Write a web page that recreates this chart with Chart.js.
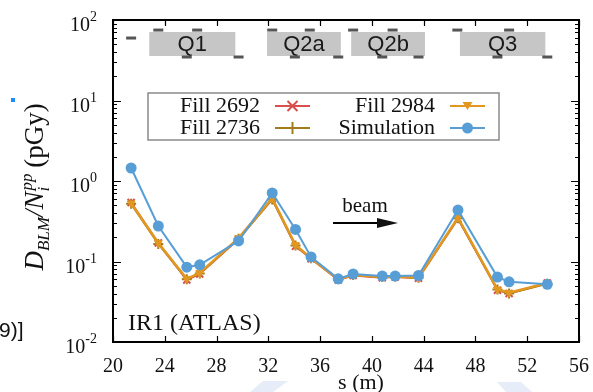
<!DOCTYPE html>
<html>
<head>
<meta charset="utf-8">
<script src="https://cdn.jsdelivr.net/npm/chart.js@4.4.0/dist/chart.umd.min.js"></script>
<style>
  html, body { margin: 0; padding: 0; background: #fff; }
  #wrap { position: relative; width: 593px; height: 392px; }
</style>
</head>
<body>
<div id="wrap"><canvas id="blmChart" width="593" height="392"></canvas></div>
<script>
// BLM positions along s (m)
const sPos = [21.4, 23.5, 25.7, 26.7, 29.7, 32.3, 34.1, 35.3, 37.4, 38.55, 40.8, 41.8, 43.6, 46.65, 49.7, 50.6, 53.55];

// dose per inelastic collision (pGy)
const fill2692 = [0.54, 0.17, 0.059, 0.070, 0.19, 0.60, 0.155, 0.108, 0.059, 0.067, 0.063, 0.064, 0.062, 0.34, 0.044, 0.040, 0.054];
const fill2736 = [0.52, 0.165, 0.060, 0.071, 0.192, 0.59, 0.158, 0.110, 0.060, 0.068, 0.064, 0.065, 0.063, 0.345, 0.045, 0.040, 0.053];
const fill2984 = [0.53, 0.17, 0.061, 0.072, 0.195, 0.61, 0.160, 0.110, 0.060, 0.068, 0.064, 0.065, 0.063, 0.35, 0.045, 0.041, 0.054];
const simulation = [1.45, 0.276, 0.085, 0.091, 0.18, 0.71, 0.25, 0.114, 0.061, 0.070, 0.066, 0.066, 0.067, 0.436, 0.064, 0.056, 0.052];

// magnet layout drawn at the top
const quadNames = ['Q1', 'Q2a', 'Q2b', 'Q3'];
const quadStart = [22.8, 31.9, 38.4, 46.8];
const quadEnd = [29.45, 37.6, 44.1, 53.4];
const quadLow = 35.7, quadHigh = 71;

// BLM markers above / below the magnets
const blmTopS = [23.5, 26.5, 32.3, 35.2, 38.55, 41.6, 46.6, 50.6];
const blmBottomS = [25.7, 29.7, 34.05, 37.4, 40.8, 43.6, 49.7, 53.55];
const blmMidS = [21.4];
const blmTopY = 75, blmBottomY = 34.7, blmMidY = 59.7;

const xTicks = [20, 24, 28, 32, 36, 40, 44, 48, 52, 56];
const yDecades = [-2, -1, 0, 1, 2];

const RED = 'rgb(218,78,78)';
const GOLD = 'rgb(163,122,28)';
const ORANGE = 'rgb(226,152,32)';
const BLUE = 'rgb(88,158,214)';
const SERIF = '"Liberation Serif", "DejaVu Serif", serif';
const SANS = '"Liberation Sans", Arial, sans-serif';

const pts = (ys) => sPos.map((s, i) => ({ x: s, y: ys[i] }));
const flat = (xs, y) => xs.map(s => ({ x: s, y: y }));

function legendMarker(ctx, kind, color, x, y) {
    ctx.save();
    ctx.strokeStyle = color; ctx.fillStyle = color; ctx.lineWidth = 2;
    ctx.beginPath();
    if (kind === 'x') {
        ctx.moveTo(x - 5, y - 5); ctx.lineTo(x + 5, y + 5);
        ctx.moveTo(x + 5, y - 5); ctx.lineTo(x - 5, y + 5); ctx.stroke();
    } else if (kind === '+') {
        ctx.moveTo(x, y - 6); ctx.lineTo(x, y + 6); ctx.stroke();
    } else if (kind === 'tri') {
        ctx.moveTo(x - 5, y - 4); ctx.lineTo(x + 5, y - 4); ctx.lineTo(x, y + 4);
        ctx.closePath(); ctx.fill();
    } else {
        ctx.arc(x, y, 5.5, 0, Math.PI * 2); ctx.fill();
    }
    ctx.restore();
}

const decor = {
    id: 'decor',
    beforeDraw(chart) {
        const ctx = chart.ctx;
        ctx.save();
        ctx.fillStyle = '#fff';
        ctx.fillRect(0, 0, chart.width, chart.height);
        // faint page decorations
        ctx.fillStyle = '#e7edf8';
        ctx.beginPath();
        ctx.moveTo(263, 381); ctx.lineTo(288, 381); ctx.lineTo(273, 392); ctx.lineTo(250, 392);
        ctx.closePath(); ctx.fill();
        ctx.beginPath();
        ctx.moveTo(497, 382); ctx.lineTo(521, 382); ctx.lineTo(532, 392); ctx.lineTo(506, 392);
        ctx.closePath(); ctx.fill();
        ctx.fillStyle = '#1e8cf0';
        ctx.fillRect(11, 98, 4, 4);
        ctx.fillStyle = '#111';
        ctx.font = '21px ' + SANS;
        ctx.textAlign = 'left';
        ctx.textBaseline = 'alphabetic';
        ctx.fillText('9)]', -1, 337);
        ctx.restore();
    },
    beforeDatasetsDraw(chart) {
        const ctx = chart.ctx, xs = chart.scales.x, ys = chart.scales.y;
        ctx.save();
        const yt = ys.getPixelForValue(quadHigh), yb = ys.getPixelForValue(quadLow);
        quadNames.forEach((name, i) => {
            const x0 = xs.getPixelForValue(quadStart[i]), x1 = xs.getPixelForValue(quadEnd[i]);
            ctx.fillStyle = '#c6c6c6';
            ctx.fillRect(x0, yt, x1 - x0, yb - yt);
            ctx.fillStyle = '#1a1a1a';
            ctx.font = '22px ' + SANS;
            ctx.textAlign = 'center';
            ctx.textBaseline = 'middle';
            ctx.fillText(name, (x0 + x1) / 2, (yt + yb) / 2 + 1);
        });
        ctx.restore();
    },
    afterDatasetsDraw(chart) {
        const ctx = chart.ctx, xs = chart.scales.x, ys = chart.scales.y;
        const a = chart.chartArea;
        ctx.save();
        // frame
        ctx.strokeStyle = '#000';
        ctx.lineWidth = 2;
        ctx.strokeRect(a.left, a.top, a.right - a.left, a.bottom - a.top);
        ctx.lineWidth = 1.2;
        ctx.beginPath();
        xTicks.forEach(v => {
            const px = Math.round(xs.getPixelForValue(v)) + 0.5;
            ctx.moveTo(px, a.bottom); ctx.lineTo(px, a.bottom - 6);
            ctx.moveTo(px, a.top); ctx.lineTo(px, a.top + 6);
        });
        yDecades.forEach(d => {
            for (let m = 1; m <= 9; m++) {
                const val = m * Math.pow(10, d);
                if (d === 2 && m > 1) break;
                const py = Math.round(ys.getPixelForValue(val)) + 0.5;
                const len = m === 1 ? 8 : 4;
                ctx.moveTo(a.left, py); ctx.lineTo(a.left + len, py);
                ctx.moveTo(a.right, py); ctx.lineTo(a.right - len, py);
            }
        });
        ctx.stroke();

        // tick labels
        ctx.fillStyle = '#111';
        ctx.textBaseline = 'alphabetic';
        ctx.font = '20px ' + SERIF;
        ctx.textAlign = 'center';
        xTicks.forEach(v => ctx.fillText(String(v), xs.getPixelForValue(v), 372));
        yDecades.forEach(d => {
            const py = ys.getPixelForValue(Math.pow(10, d));
            const exp = d < 0 ? '-' + (-d) : String(d);
            ctx.font = '14px ' + SERIF;
            const we = ctx.measureText(exp).width;
            ctx.textAlign = 'left';
            ctx.fillText(exp, 97 - we, py + 1);
            ctx.font = '20px ' + SERIF;
            ctx.textAlign = 'right';
            ctx.fillText('10', 97 - we, py + 11);
        });

        // axis titles
        ctx.font = '22px ' + SERIF;
        ctx.textAlign = 'center';
        ctx.fillText('s (m)', 361, 389);

        ctx.save();
        ctx.translate(43, 187);
        ctx.rotate(-Math.PI / 2);
        const big = 'italic 27px ' + SERIF, small = 'italic 17px ' + SERIF;
        const parts = [
            { t: 'D', f: big, dy: 0 },
            { t: 'BLM', f: small, dy: 6 },
            { t: '/N', f: big, dy: 0 },
            { t: 'i', f: small, dy: 6, stack: 'pp' },
            { t: ' (pGy)', f: '27px ' + SERIF, dy: 0 }
        ];
        let total = 0;
        parts.forEach(p => {
            ctx.font = p.f;
            let w = ctx.measureText(p.t).width;
            if (p.stack) w = Math.max(w, ctx.measureText(p.stack).width);
            p.w = w; total += w;
        });
        let cx = -total / 2;
        ctx.textAlign = 'left';
        parts.forEach(p => {
            ctx.font = p.f;
            ctx.fillText(p.t, cx, p.dy);
            if (p.stack) ctx.fillText(p.stack, cx + 1, -11);
            cx += p.w;
        });
        ctx.restore();

        // annotations
        ctx.font = '24px ' + SERIF;
        ctx.textAlign = 'left';
        ctx.fillText('IR1 (ATLAS)', 128, 330);
        ctx.font = '21px ' + SERIF;
        ctx.textAlign = 'center';
        ctx.fillText('beam', 365, 212);
        ctx.lineWidth = 2;
        ctx.beginPath();
        ctx.moveTo(333, 223); ctx.lineTo(380, 223); ctx.stroke();
        ctx.beginPath();
        ctx.moveTo(377, 218); ctx.lineTo(398, 223); ctx.lineTo(377, 228); ctx.closePath(); ctx.fill();

        // legend
        ctx.fillStyle = '#fff';
        ctx.fillRect(148, 93, 351, 47);
        ctx.strokeStyle = '#8a8a8a';
        ctx.lineWidth = 1.5;
        ctx.strokeRect(148, 93, 351, 47);
        const entries = [
            { label: 'Fill 2692', color: RED, kind: 'x', tx: 260, lx: 275, y: 106 },
            { label: 'Fill 2736', color: GOLD, kind: '+', tx: 260, lx: 275, y: 128 },
            { label: 'Fill 2984', color: ORANGE, kind: 'tri', tx: 435, lx: 450, y: 106 },
            { label: 'Simulation', color: BLUE, kind: 'o', tx: 435, lx: 450, y: 128 }
        ];
        entries.forEach(e => {
            ctx.fillStyle = '#111';
            ctx.font = '22px ' + SERIF;
            ctx.textAlign = 'right';
            ctx.fillText(e.label, e.tx, e.y + 6);
            ctx.strokeStyle = e.color;
            ctx.lineWidth = 2;
            ctx.beginPath();
            ctx.moveTo(e.lx, e.y); ctx.lineTo(e.lx + 35, e.y); ctx.stroke();
            legendMarker(ctx, e.kind, e.color, e.lx + 17.5, e.y);
        });
        ctx.restore();
    }
};

const ctx = document.getElementById('blmChart');
const dashStyle = {
    type: 'scatter', showLine: false, pointStyle: 'line', pointRadius: 5,
    pointBorderWidth: 3, pointBorderColor: '#555', pointBackgroundColor: '#555', order: 5
};

new Chart(ctx, {
    type: 'line',
    data: {
        datasets: [
            { label: 'Fill 2692', data: pts(fill2692), borderColor: RED, backgroundColor: RED,
              pointStyle: 'crossRot', pointRadius: 5, pointBorderWidth: 2, borderWidth: 2, order: 3 },
            { label: 'Fill 2736', data: pts(fill2736), borderColor: GOLD, backgroundColor: GOLD,
              pointStyle: 'cross', pointRadius: 5, pointBorderWidth: 2, borderWidth: 2, order: 2 },
            { label: 'Fill 2984', data: pts(fill2984), borderColor: ORANGE, backgroundColor: ORANGE,
              pointStyle: 'triangle', rotation: 180, pointRadius: 4.5, pointBorderWidth: 1, borderWidth: 2.5, order: 1 },
            { label: 'Simulation', data: pts(simulation), borderColor: BLUE, backgroundColor: BLUE,
              pointStyle: 'circle', pointRadius: 5.5, pointBorderWidth: 0, borderWidth: 2, order: 0 },
            Object.assign({ label: 'BLM top', data: flat(blmTopS, blmTopY) }, dashStyle),
            Object.assign({ label: 'BLM bottom', data: flat(blmBottomS, blmBottomY) }, dashStyle),
            Object.assign({ label: 'BLM mid', data: flat(blmMidS, blmMidY) }, dashStyle)
        ]
    },
    options: {
        responsive: false,
        animation: false,
        devicePixelRatio: 1,
        layout: { padding: { left: 113, top: 20, right: 14, bottom: 50 } },
        elements: { line: { tension: 0, fill: false } },
        plugins: { legend: { display: false }, tooltip: { enabled: false } },
        scales: {
            x: { type: 'linear', min: 20, max: 56, display: false },
            y: { type: 'logarithmic', min: 0.01, max: 100, display: false }
        }
    },
    plugins: [decor]
});
</script>
</body>
</html>
